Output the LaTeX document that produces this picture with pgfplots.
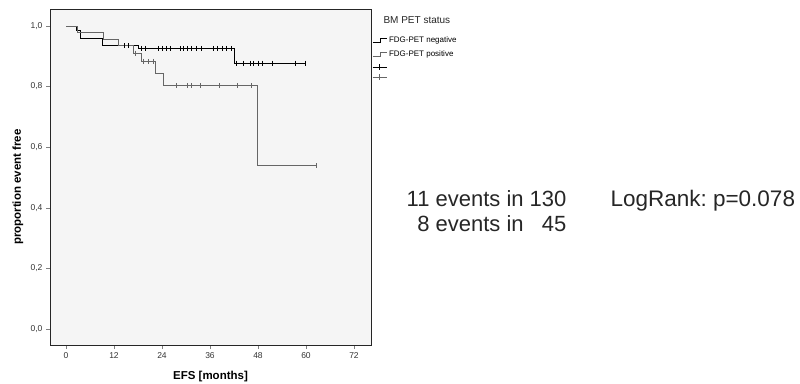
\documentclass[border=0pt]{standalone}
\usepackage{fontspec}
\setmainfont{Liberation Sans}
\usepackage{pgfplots}
\pgfplotsset{compat=1.18}
\frenchspacing
\pgfplotsset{
 kmstep/.style={legend image code/.code={\draw[##1] (0pt,-2pt) -- (8pt,-2pt) -- (8pt,2pt) -- (14pt,2pt);}},
 kmcens/.style={legend image code/.code={\draw[##1] (0pt,0pt) -- (14pt,0pt); \draw[##1] (7pt,-3pt) -- (7pt,3pt);}},
}
\begin{document}
\begin{tikzpicture}[x=1pt,y=1pt]
\path[use as bounding box] (0,0) rectangle (800,383);
\begin{axis}[at={(50pt,38pt)}, anchor=south west, scale only axis,
 width=321pt, height=336pt,
 xmin=-4, xmax=76.25, ymin=-0.053, ymax=1.056,
 xtick={0,12,24,36,48,60,72}, ytick={0,0.2,0.4,0.6,0.8,1.0},
 yticklabel style={/pgf/number format/.cd, fixed, fixed zerofill, precision=1, use comma},
 /pgf/number format/assume math mode=true,
 tick label style={font=\fontsize{8.5}{10}\selectfont, black!80},
 tick align=outside, tick pos=left, major tick length=4pt,
 axis line style={black!85, line width=0.9pt},
 axis background/.style={fill=black!4},
 xlabel={EFS [months]}, ylabel={proportion event free},
 label style={font=\bfseries\fontsize{11.5}{13}\selectfont},
 xlabel style={at={(axis description cs:0.5,-0.095)}, anchor=center},
 ylabel style={at={(axis description cs:-0.1,0.47)}, anchor=center},
 legend style={at={(axis description cs:1.0,0.928)}, anchor=north west, draw=none, fill=none,
   font=\fontsize{8}{9}\selectfont, inner sep=1pt, row sep=3.3pt, legend cell align=left},
]
\addlegendimage{black, line width=0.8pt, kmstep}
\addlegendentry{FDG-PET negative}
\addlegendimage{black!60, line width=0.6pt, kmstep}
\addlegendentry{FDG-PET positive}
\addlegendimage{black, line width=0.8pt, kmcens}
\addlegendentry{}
\addlegendimage{black!60, line width=0.6pt, kmcens}
\addlegendentry{}

% FDG-PET negative
\addplot[const plot, black, line width=0.8pt, forget plot] table {
x y
0 1.0
2.7 0.985
3.7 0.959
9.2 0.935
18.0 0.926
42.2 0.877
59.8 0.877
};
% FDG-PET positive
\addplot[const plot, black!60, line width=0.6pt, forget plot] table {
x y
0 1.0
2.7 0.978
9.3 0.956
13.1 0.935
16.9 0.910
18.9 0.883
22.3 0.843
24.3 0.803
47.8 0.539
62.5 0.539
};
% censored negative
\addplot[only marks, mark=|, mark size=2.5pt, black, line width=0.8pt, forget plot] table {
x y
14.5 0.935
15.5 0.935
18.9 0.926
19.75 0.926
23.1 0.926
24.2 0.926
25.2 0.926
26.2 0.926
28.5 0.926
29.3 0.926
30.3 0.926
31.4 0.926
32.7 0.926
33.9 0.926
36.8 0.926
37.9 0.926
39.2 0.926
40.2 0.926
41.4 0.926
42.7 0.877
44.3 0.877
46.0 0.877
46.8 0.877
48.1 0.877
49.2 0.877
51.6 0.877
57.3 0.877
59.8 0.877
};
% censored positive
\addplot[only marks, mark=|, mark size=2.5pt, black!60, line width=0.6pt, forget plot] table {
x y
17.3 0.910
19.3 0.883
20.6 0.883
21.7 0.883
27.5 0.803
30.4 0.803
31.4 0.803
33.5 0.803
38.3 0.803
42.7 0.803
46.4 0.803
62.5 0.539
};
\end{axis}
\node[anchor=base west, font=\fontsize{10}{12}\selectfont, black!85] at (380,359) {BM PET status};
\node[anchor=base east, font=\fontsize{22}{26}\selectfont, black!85] at (570,176) {11 events in 130};
\node[anchor=base east, font=\fontsize{22}{26}\selectfont, black!85] at (570,151) {8 events in \phantom{1}45};
\node[anchor=base west, font=\fontsize{22.5}{26}\selectfont, black!85] at (607,176) {LogRank: p=0.078};
\end{tikzpicture}
\end{document}
